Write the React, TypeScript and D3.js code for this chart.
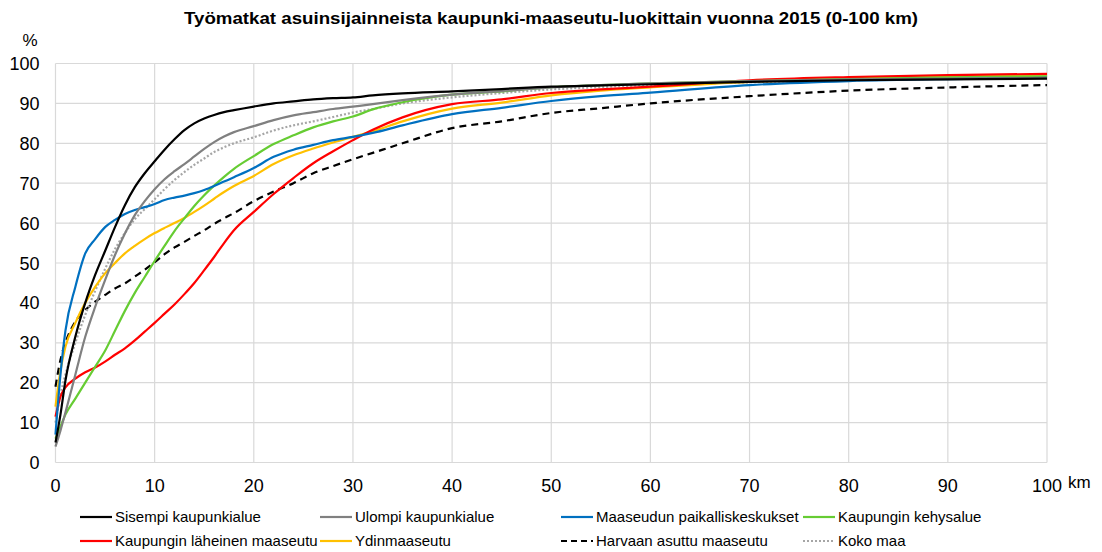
import React from "react";
import * as d3 from "d3";

const km = [0, 0.5, 1, 2, 3, 4, 5, 6, 7, 8, 9, 10, 11, 12, 13, 14, 15, 16, 17, 18, 20, 22, 24, 26, 28, 30, 32, 35, 40, 45, 50, 55, 60, 70, 80, 90, 100];

const sisempi = [5, 12, 20.5, 31.5, 40, 47, 53, 59, 64.5, 69, 72.5, 75.5, 78.4, 81, 83.3, 85, 86.2, 87.1, 87.8, 88.3, 89.2, 90, 90.5, 91, 91.3, 91.5, 92, 92.5, 93, 93.6, 94.2, 94.5, 94.8, 95.4, 95.8, 96, 96.2];
const ulompi = [4, 8, 12.5, 22, 31.5, 39, 45.7, 52, 57.4, 62, 65.5, 68.5, 71, 73, 74.8, 76.7, 78.6, 80.3, 81.7, 82.8, 84.3, 85.8, 87, 87.8, 88.6, 89.2, 89.8, 90.8, 92.2, 93.1, 94, 94.6, 95, 95.6, 96, 96.2, 96.4];
const paikalliskeskukset = [7, 22, 33, 44, 52.4, 56, 59, 60.8, 62.3, 63.3, 64, 64.8, 65.8, 66.4, 66.9, 67.5, 68.3, 69.3, 70.4, 71.5, 73.8, 76.6, 78.4, 79.6, 80.8, 81.6, 82.6, 84.5, 87.3, 88.9, 90.6, 91.8, 92.7, 94.6, 95.6, 96.1, 96.4];
const kehysalue = [6, 9, 12, 16, 20, 24, 28, 33, 38, 42.5, 46.5, 50.5, 54.3, 58, 61.2, 64.3, 67, 69.4, 71.6, 73.6, 76.8, 79.8, 82, 84, 85.5, 86.7, 88.5, 90.3, 92.2, 93, 94.1, 94.6, 95, 95.6, 96.1, 96.5, 96.8];
const laheinen = [11.5, 16.5, 18.8, 21, 22.6, 23.8, 25.3, 27, 28.6, 30.6, 32.8, 35, 37.3, 39.6, 42.2, 45, 48.2, 51.5, 55, 58.2, 62.8, 67.3, 71.3, 75, 78, 80.8, 83.4, 86.5, 89.8, 91, 92.6, 93.5, 94.2, 95.8, 96.6, 97.1, 97.4];
const ydin = [14, 23, 29, 35, 40, 44, 47.4, 50, 52.4, 54.3, 56, 57.5, 58.8, 60, 61.3, 62.8, 64.4, 66.1, 67.8, 69.3, 71.8, 74.8, 77, 78.7, 80.2, 81.6, 83, 85.5, 88.7, 90.2, 92, 93.2, 94, 95.4, 96.2, 96.8, 97.2];
const harvaan = [19, 25.7, 30, 35.3, 38.2, 40.3, 42, 43.6, 44.9, 46.6, 48.3, 50.2, 52.2, 53.9, 55.3, 56.8, 58.2, 59.8, 61.2, 62.5, 65.5, 67.9, 70, 72.5, 74.3, 76, 77.6, 80, 83.8, 85.5, 87.6, 88.8, 90, 91.8, 93.2, 94, 94.6];
const kokoMaa = [10, 17, 22, 30, 37, 43, 48.5, 53.5, 57.5, 61, 63.5, 66, 68.5, 70.8, 72.8, 74.6, 76.2, 77.8, 79, 80, 81.5, 83.2, 84.5, 85.5, 86.6, 87.7, 88.6, 90, 91.5, 92.6, 93.5, 94.1, 94.6, 95.3, 95.8, 96.2, 96.5];

const seriesNames = [
  "Sisempi kaupunkialue",
  "Ulompi kaupunkialue",
  "Maaseudun paikalliskeskukset",
  "Kaupungin kehysalue",
  "Kaupungin läheinen maaseutu",
  "Ydinmaaseutu",
  "Harvaan asuttu maaseutu",
  "Koko maa",
];
const seriesValues = [sisempi, ulompi, paikalliskeskukset, kehysalue, laheinen, ydin, harvaan, kokoMaa];

const xTicks = [0, 10, 20, 30, 40, 50, 60, 70, 80, 90, 100];
const yTicks = [0, 10, 20, 30, 40, 50, 60, 70, 80, 90, 100];

const title = "Työmatkat asuinsijainneista kaupunki-maaseutu-luokittain vuonna 2015 (0-100 km)";

const styles = [
  { color: "#000000", dash: "" },
  { color: "#808080", dash: "" },
  { color: "#0070c0", dash: "" },
  { color: "#66cc33", dash: "" },
  { color: "#ff0000", dash: "" },
  { color: "#ffc000", dash: "" },
  { color: "#000000", dash: "7,5" },
  { color: "#a6a6a6", dash: "2,2" },
];

const FONT = "'Liberation Sans', Arial, sans-serif";

export default function App() {
  const W = 1102, H = 552;
  const x0 = 55.5, x1 = 1047, y0 = 462.5, y1 = 63.5;
  const x = d3.scaleLinear().domain([0, 100]).range([x0, x1]);
  const y = d3.scaleLinear().domain([0, 100]).range([y0, y1]);
  const line = d3.line<number>().x((_, i) => x(km[i])).y((d) => y(d)).curve(d3.curveMonotoneX);

  const drawOrder = [6, 7, 5, 4, 3, 2, 1, 0];

  const legendCols = [80, 320, 561, 803];
  const legendRows = [517, 541];

  return (
    <svg width={W} height={H} style={{ position: "absolute", left: 0, top: 0, background: "#fff" }} fontFamily={FONT}>
      <text x={551} y={24} textAnchor="middle" fontSize={17} fontWeight="bold" fill="#000" textLength={734} lengthAdjust="spacingAndGlyphs">{title}</text>
      <text x={30} y={46} textAnchor="middle" fontSize={17} fill="#000">%</text>
      {yTicks.map((t) => (
        <line key={"gy" + t} x1={x0} x2={x1} y1={y(t)} y2={y(t)} stroke="#d9d9d9" strokeWidth={1.2} />
      ))}
      {xTicks.map((t) => (
        <line key={"gx" + t} x1={x(t)} x2={x(t)} y1={y1} y2={y0} stroke="#d9d9d9" strokeWidth={1.2} />
      ))}
      {yTicks.map((t) => (
        <text key={"ty" + t} x={39.5} y={y(t) + 6.5} textAnchor="end" fontSize={18} fill="#000">{t}</text>
      ))}
      {xTicks.map((t) => (
        <text key={"tx" + t} x={x(t)} y={491.5} textAnchor="middle" fontSize={18} fill="#000">{t}</text>
      ))}
      <text x={1068} y={488} fontSize={17} fill="#000">km</text>
      {drawOrder.map((i) => (
        <path key={"s" + i} d={line(seriesValues[i]) || ""} fill="none" stroke={styles[i].color} strokeWidth={2.2} strokeDasharray={styles[i].dash || undefined} />
      ))}
      {seriesNames.map((name, i) => {
        const cx = legendCols[i % 4];
        const cy = legendRows[Math.floor(i / 4)];
        return (
          <g key={"l" + i}>
            <line x1={cx} x2={cx + 32} y1={cy} y2={cy} stroke={styles[i].color} strokeWidth={2.2} strokeDasharray={styles[i].dash ? (i === 6 ? "6,4" : "2,2") : undefined} />
            <text x={cx + 35} y={cy + 5} fontSize={15} fill="#000">{name}</text>
          </g>
        );
      })}
    </svg>
  );
}
